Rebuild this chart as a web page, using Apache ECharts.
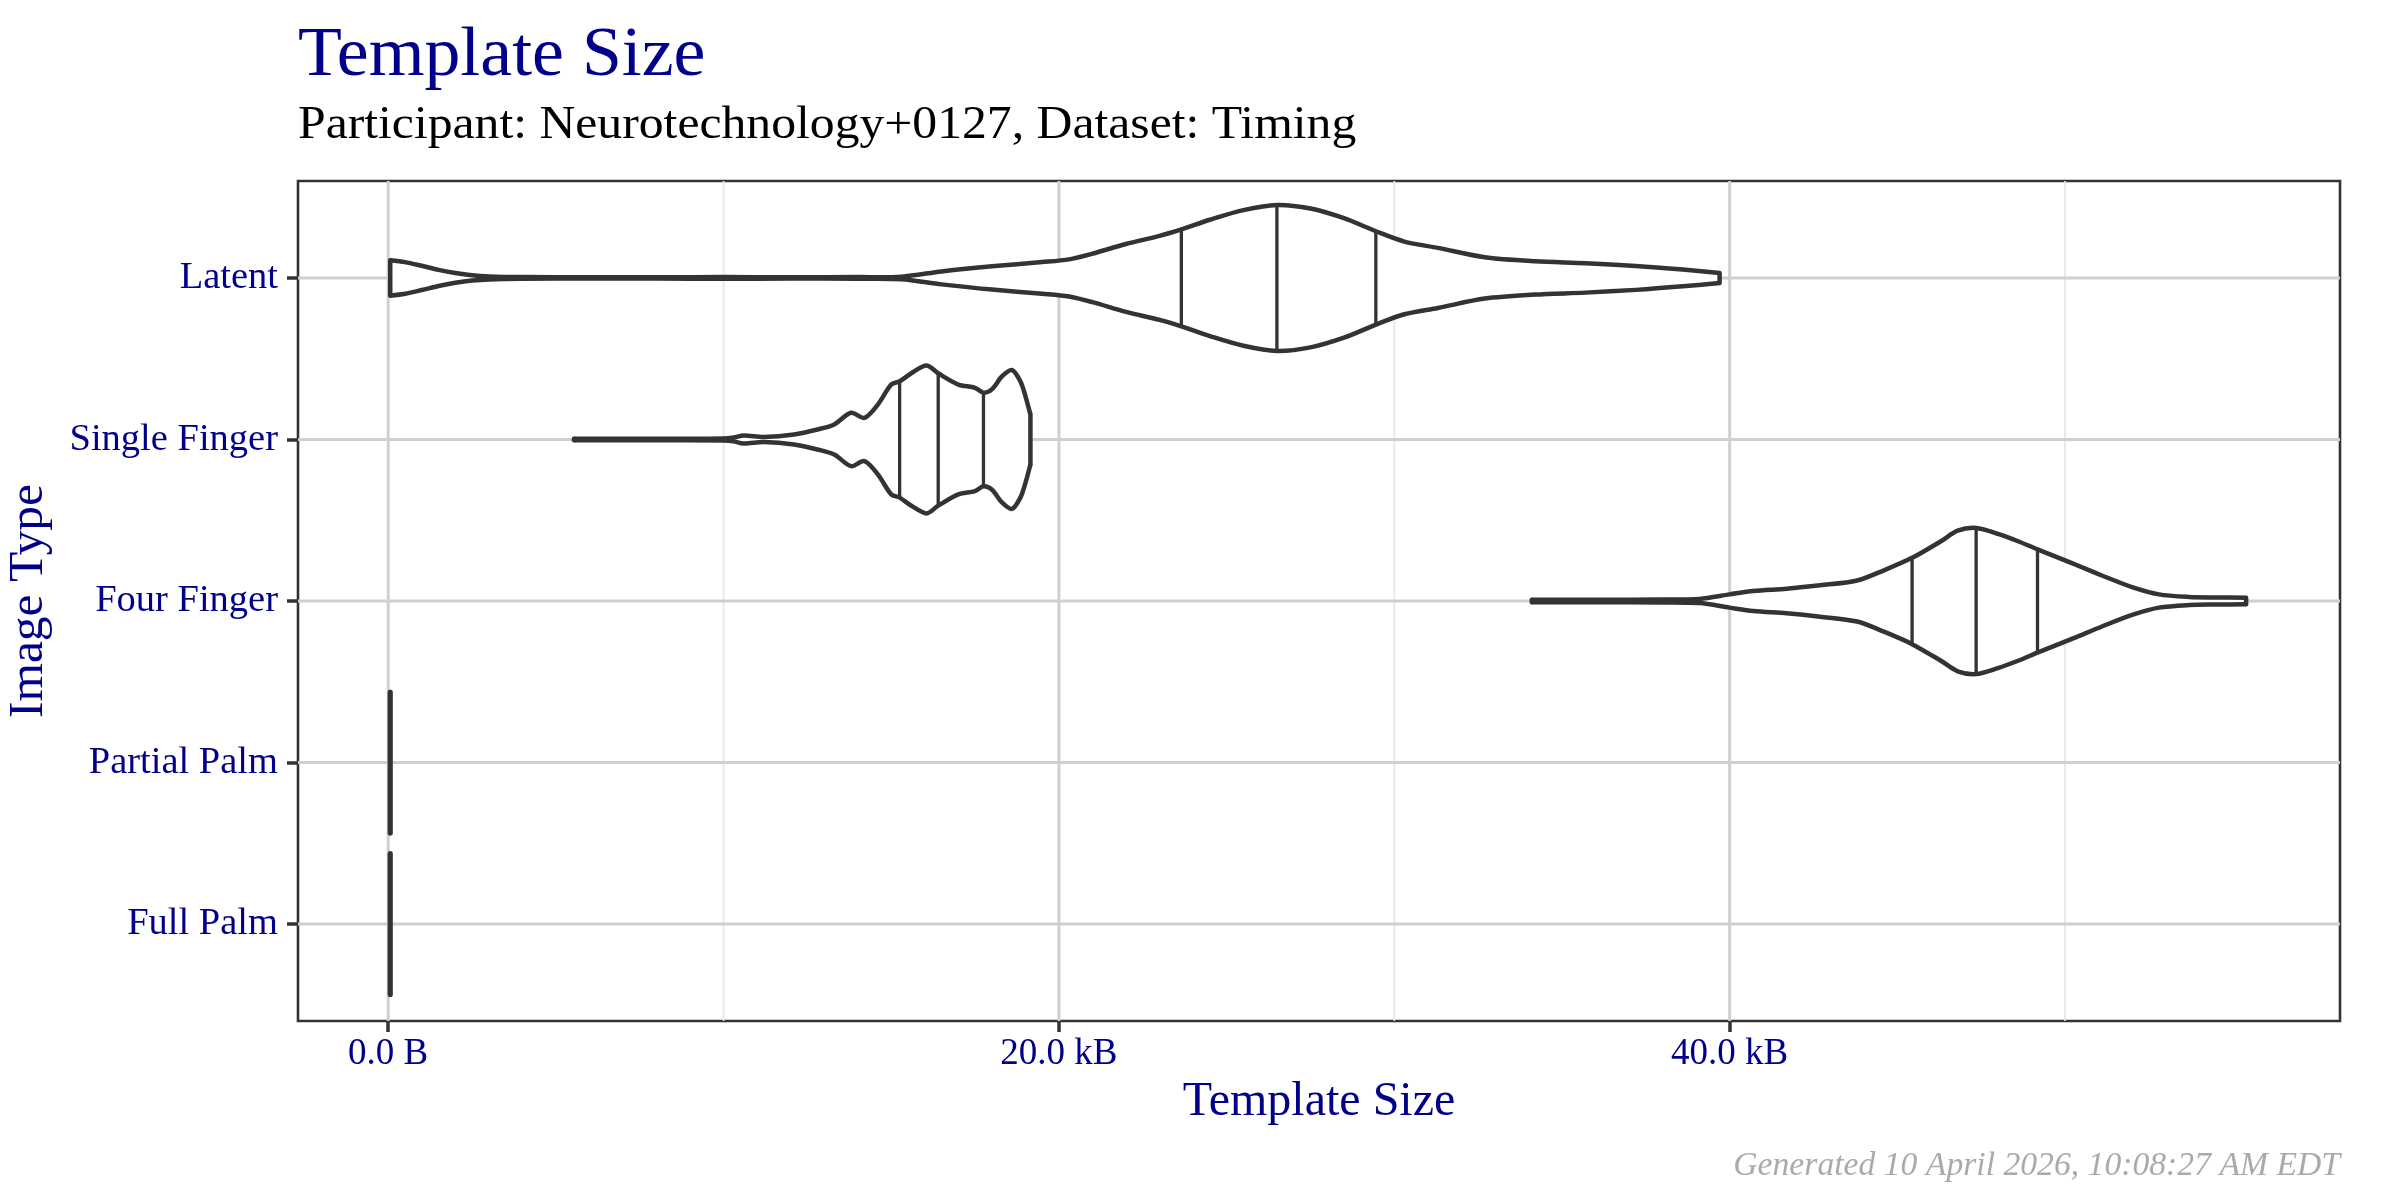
<!DOCTYPE html>
<html><head><meta charset="utf-8">
<script src="https://cdn.jsdelivr.net/npm/echarts@6/dist/echarts.min.js"></script>
<style>html,body{margin:0;padding:0;background:#fff}#c{width:2400px;height:1200px}</style>
</head><body><div id="c"></div>
<script>
// ---------- data ----------
const categories = ['Latent', 'Single Finger', 'Four Finger', 'Partial Palm', 'Full Palm'];
const xTickValues = [0, 20, 40];
const xTickLabels = ['0.0 B', '20.0 kB', '40.0 kB'];
const xMinorGrid = [10, 30, 50];

// violin outlines: [template size in kB, half width in category units]
const latentProfile = [
  [0.06,0.11],[0.5,0.098],[1.0,0.075],[1.5,0.05],[2.0,0.03],[2.5,0.016],[3.0,0.009],[4.0,0.005],
  [6,0.004],[8,0.004],[10,0.005],[12,0.004],[14,0.005],[15.3,0.008],[16.5,0.04],[18.0,0.072],
  [19.5,0.098],[20.3,0.115],[21.0,0.15],[22.0,0.21],[23.0,0.26],[23.65,0.30],[24.5,0.36],
  [25.5,0.42],[26.5,0.452],[27.5,0.43],[28.5,0.37],[29.45,0.289],[30.3,0.225],[31.3,0.186],
  [32.7,0.128],[34.2,0.103],[35.7,0.091],[37.2,0.074],[38.6,0.052],[39.7,0.031]
];
const singleFingerProfile = [
  [5.54,0.005],[8.0,0.005],[10.0,0.006],[10.3,0.012],[10.6,0.025],[11.2,0.016],[12.1,0.031],
  [12.8,0.062],[13.3,0.093],[13.8,0.165],[14.2,0.134],[14.6,0.216],[15.0,0.34],[15.25,0.36],
  [15.6,0.41],[16.05,0.458],[16.4,0.41],[17.0,0.34],[17.5,0.32],[17.75,0.29],[18.0,0.31],
  [18.3,0.39],[18.6,0.43],[18.85,0.36],[19.0,0.27],[19.15,0.155]
];
const fourFingerProfile = [
  [34.1,0.008],[36.0,0.008],[38.0,0.009],[39.1,0.013],[40.0,0.041],[40.7,0.062],[41.7,0.076],
  [42.7,0.097],[43.8,0.127],[44.6,0.19],[45.44,0.267],[46.3,0.37],[46.8,0.435],[47.35,0.452],
  [48.0,0.415],[48.6,0.37],[49.18,0.32],[50.26,0.23],[51.1,0.158],[52.0,0.086],[52.8,0.041],
  [53.7,0.025],[54.5,0.022],[55.4,0.02]
];
const partialPalmProfile = [[0.05,0.437],[0.07,0.437]];
const fullPalmProfile = [[0.05,0.437],[0.07,0.437]];

// 25%, 50%, 75% quantile lines (kB)
const latentQuartiles = [23.65, 26.5, 29.45];
const singleFingerQuartiles = [15.25, 16.4, 17.75];
const fourFingerQuartiles = [45.44, 47.35, 49.18];
const partialPalmQuartiles = [];
const fullPalmQuartiles = [];

const profiles = [latentProfile, singleFingerProfile, fourFingerProfile, partialPalmProfile, fullPalmProfile];
const quartiles = [latentQuartiles, singleFingerQuartiles, fourFingerQuartiles, partialPalmQuartiles, fullPalmQuartiles];

// ---------- rendering ----------
const FONT = '"Liberation Serif", "DejaVu Serif", serif';
const BLUE = '#00008B';
const INK = '#333333';
const Y_MIN = 0.4, Y_MAX = 5.6, X_MIN = -2.69, X_MAX = 58.2;

const gridDefs = [];
xMinorGrid.forEach(v => gridDefs.push({ dir: 'x', v: v, minor: true }));
xTickValues.forEach(v => gridDefs.push({ dir: 'x', v: v, minor: false }));
categories.forEach((c, i) => gridDefs.push({ dir: 'y', v: i + 1, minor: false }));

function hwAt(prof, x) {
  for (let k = 0; k < prof.length - 1; k++) {
    const a = prof[k], b = prof[k + 1];
    if (x >= a[0] && x <= b[0]) return a[1] + (b[1] - a[1]) * (x - a[0]) / (b[0] - a[0]);
  }
  return 0;
}

function renderGrid(params, api) {
  const g = gridDefs[params.dataIndex];
  let p1, p2;
  if (g.dir === 'x') { p1 = api.coord([g.v, Y_MIN]); p2 = api.coord([g.v, Y_MAX]); }
  else { p1 = api.coord([X_MIN, g.v]); p2 = api.coord([X_MAX, g.v]); }
  return {
    type: 'line',
    shape: { x1: p1[0], y1: p1[1], x2: p2[0], y2: p2[1] },
    style: { stroke: g.minor ? '#E6E6E6' : '#CFCFCF', lineWidth: g.minor ? 1.7 : 3 }
  };
}

function renderViolin(params, api) {
  const i = params.dataIndex;
  const prof = profiles[i];
  const c = i + 1;
  const upper = prof.map(p => api.coord([p[0], c - p[1]]));
  const lower = prof.map(p => api.coord([p[0], c + p[1]]));
  const poly = upper.concat(lower.slice().reverse());
  const children = [
    { type: 'polygon', shape: { points: poly }, style: { fill: '#ffffff', stroke: null } },
  ];
  quartiles[i].forEach(q => {
    const h = hwAt(prof, q);
    const a = api.coord([q, c - h]), b = api.coord([q, c + h]);
    children.push({ type: 'line', shape: { x1: a[0], y1: a[1], x2: b[0], y2: b[1] },
      style: { stroke: INK, lineWidth: 3.3 } });
  });
  children.push({ type: 'polyline', shape: { points: upper, smooth: 0.3 },
    style: { stroke: INK, lineWidth: 4.5, fill: null, lineJoin: 'round' } });
  children.push({ type: 'polyline', shape: { points: lower, smooth: 0.3 },
    style: { stroke: INK, lineWidth: 4.5, fill: null, lineJoin: 'round' } });
  const l0 = upper[0], l1 = lower[0];
  const r0 = upper[upper.length - 1], r1 = lower[lower.length - 1];
  children.push({ type: 'line', shape: { x1: l0[0], y1: l0[1], x2: l1[0], y2: l1[1] },
    style: { stroke: INK, lineWidth: 4.5, lineCap: 'round' } });
  children.push({ type: 'line', shape: { x1: r0[0], y1: r0[1], x2: r1[0], y2: r1[1] },
    style: { stroke: INK, lineWidth: 4.5, lineCap: 'round' } });
  return { type: 'group', children: children };
}

const chart = echarts.init(document.getElementById('c'), null, { renderer: 'canvas' });
chart.setOption({
  animation: false,
  backgroundColor: '#ffffff',
  grid: { left: 298, right: 60, top: 181, bottom: 179, show: true,
          borderColor: INK, borderWidth: 2.6, backgroundColor: '#ffffff' },
  xAxis: {
    type: 'value', min: X_MIN, max: X_MAX,
    axisLine: { show: false, onZero: false },
    splitLine: { show: false },
    axisTick: { show: true, customValues: xTickValues, length: 11, lineStyle: { color: INK, width: 3.5 } },
    axisLabel: { show: true, customValues: xTickValues, margin: 15,
      formatter: v => xTickLabels[xTickValues.indexOf(v)],
      fontFamily: FONT, fontSize: 37, color: BLUE }
  },
  yAxis: {
    type: 'value', min: Y_MIN, max: Y_MAX, inverse: true,
    axisLine: { show: false, onZero: false },
    splitLine: { show: false },
    axisTick: { show: true, customValues: [1, 2, 3, 4, 5], length: 11, lineStyle: { color: INK, width: 3.5 } },
    axisLabel: { show: true, customValues: [1, 2, 3, 4, 5], margin: 20,
      formatter: v => categories[Math.round(v) - 1],
      fontFamily: FONT, fontSize: 38.5, color: BLUE }
  },
  series: [
    { type: 'custom', name: 'grid', renderItem: renderGrid, data: gridDefs.map((g, i) => [i]),
      silent: true, z: 1, clip: false },
    { type: 'custom', name: 'violins', renderItem: renderViolin, data: categories.map((c, i) => [i]),
      silent: true, z: 5, clip: false }
  ],
  graphic: [
    { type: 'text', x: 298, y: 57, scaleX: 1.04, silent: true,
      style: { text: 'Template Size', font: '69px ' + FONT, fill: BLUE, align: 'left', verticalAlign: 'middle' } },
    { type: 'text', x: 298, y: 126, scaleX: 1.08, silent: true,
      style: { text: 'Participant: Neurotechnology+0127, Dataset: Timing', font: '46px ' + FONT, fill: '#000000', align: 'left', verticalAlign: 'middle' } },
    { type: 'text', x: 1319, y: 1102, silent: true,
      style: { text: 'Template Size', font: '48px ' + FONT, fill: BLUE, align: 'center', verticalAlign: 'middle' } },
    { type: 'text', x: 29, y: 601, rotation: Math.PI / 2, scaleX: 1.03, silent: true,
      style: { text: 'Image Type', font: '48px ' + FONT, fill: BLUE, align: 'center', verticalAlign: 'middle' } },
    { type: 'text', x: 2340, y: 1166, scaleX: 1.02, silent: true,
      style: { text: 'Generated 10 April 2026, 10:08:27 AM EDT', font: 'italic 33px ' + FONT, fill: '#AAAAAA', align: 'right', verticalAlign: 'middle' } }
  ]
});
</script>
</body></html>
